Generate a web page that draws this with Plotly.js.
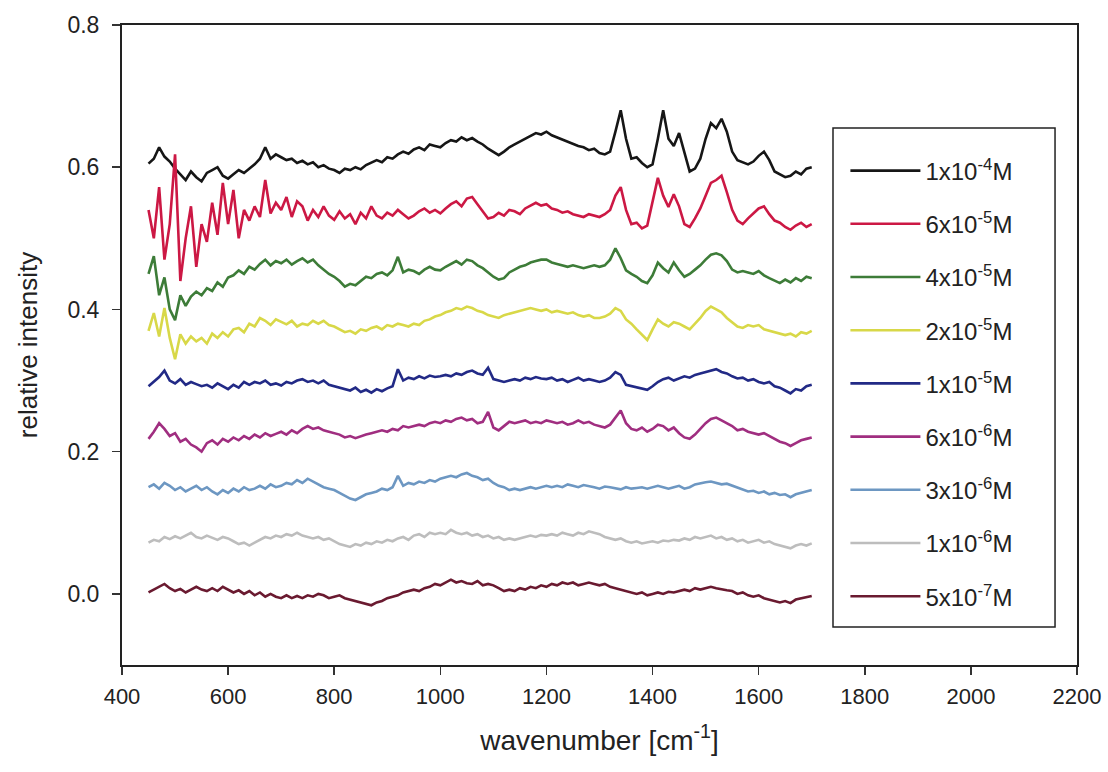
<!DOCTYPE html>
<html>
<head>
<meta charset="utf-8">
<script src="https://cdn.plot.ly/plotly-3.0.1.min.js"></script>
<style>html,body{margin:0;padding:0;background:#fff;}#chart{width:1108px;height:772px;}</style>
</head>
<body>
<div id="chart"></div>
<script>
const wavenumber = [450,460,470,480,490,500,510,520,530,540,550,560,570,580,590,600,610,620,630,640,650,660,670,680,690,700,710,720,730,740,750,760,770,780,790,800,810,820,830,840,850,860,870,880,890,900,910,920,930,940,950,960,970,980,990,1000,1010,1020,1030,1040,1050,1060,1070,1080,1090,1100,1110,1120,1130,1140,1150,1160,1170,1180,1190,1200,1210,1220,1230,1240,1250,1260,1270,1280,1290,1300,1310,1320,1330,1340,1350,1360,1370,1380,1390,1400,1410,1420,1430,1440,1450,1460,1470,1480,1490,1500,1510,1520,1530,1540,1550,1560,1570,1580,1590,1600,1610,1620,1630,1640,1650,1660,1670,1680,1690,1700];

const seriesNames = ["1x10<sup>-4</sup>M","6x10<sup>-5</sup>M","4x10<sup>-5</sup>M","2x10<sup>-5</sup>M","1x10<sup>-5</sup>M","6x10<sup>-6</sup>M","3x10<sup>-6</sup>M","1x10<sup>-6</sup>M","5x10<sup>-7</sup>M"];

const c1e4 = [0.605,0.612,0.628,0.615,0.608,0.598,0.590,0.582,0.594,0.586,0.580,0.592,0.596,0.600,0.588,0.584,0.590,0.596,0.592,0.598,0.604,0.612,0.628,0.612,0.618,0.614,0.610,0.612,0.606,0.609,0.604,0.607,0.600,0.603,0.598,0.596,0.592,0.598,0.596,0.600,0.597,0.603,0.606,0.610,0.607,0.614,0.612,0.618,0.622,0.619,0.625,0.628,0.624,0.632,0.630,0.628,0.634,0.638,0.636,0.642,0.638,0.641,0.636,0.632,0.626,0.622,0.617,0.622,0.628,0.632,0.636,0.640,0.644,0.648,0.646,0.650,0.645,0.642,0.638,0.636,0.632,0.630,0.628,0.624,0.626,0.620,0.618,0.622,0.650,0.680,0.640,0.612,0.614,0.606,0.600,0.604,0.640,0.680,0.640,0.630,0.648,0.620,0.594,0.598,0.612,0.640,0.662,0.655,0.668,0.650,0.622,0.610,0.607,0.604,0.608,0.616,0.622,0.610,0.594,0.590,0.586,0.588,0.594,0.590,0.598,0.600];

const c6e5 = [0.540,0.500,0.572,0.470,0.520,0.618,0.440,0.500,0.545,0.460,0.520,0.495,0.550,0.505,0.578,0.520,0.568,0.500,0.540,0.525,0.545,0.530,0.582,0.535,0.550,0.540,0.558,0.530,0.552,0.545,0.525,0.540,0.530,0.545,0.532,0.526,0.538,0.528,0.534,0.520,0.536,0.528,0.545,0.532,0.528,0.536,0.532,0.540,0.534,0.528,0.532,0.538,0.542,0.536,0.540,0.535,0.542,0.548,0.552,0.545,0.556,0.558,0.548,0.538,0.528,0.530,0.536,0.532,0.540,0.538,0.534,0.542,0.546,0.550,0.546,0.548,0.542,0.540,0.536,0.538,0.534,0.532,0.530,0.534,0.532,0.530,0.534,0.540,0.560,0.572,0.540,0.520,0.522,0.514,0.518,0.550,0.585,0.560,0.544,0.562,0.545,0.520,0.516,0.528,0.542,0.560,0.578,0.582,0.588,0.565,0.540,0.525,0.520,0.528,0.535,0.542,0.545,0.534,0.525,0.522,0.516,0.512,0.518,0.522,0.516,0.520];

const c4e5 = [0.450,0.475,0.420,0.445,0.400,0.385,0.420,0.405,0.418,0.425,0.420,0.430,0.426,0.438,0.432,0.445,0.448,0.455,0.450,0.460,0.456,0.464,0.470,0.462,0.468,0.465,0.470,0.463,0.468,0.472,0.466,0.470,0.462,0.456,0.450,0.446,0.440,0.432,0.436,0.434,0.440,0.446,0.444,0.450,0.452,0.448,0.455,0.474,0.452,0.456,0.454,0.450,0.456,0.460,0.456,0.455,0.460,0.464,0.468,0.463,0.470,0.468,0.462,0.458,0.452,0.446,0.442,0.444,0.452,0.456,0.460,0.462,0.466,0.468,0.470,0.470,0.466,0.464,0.462,0.460,0.462,0.460,0.458,0.460,0.462,0.460,0.462,0.470,0.486,0.472,0.455,0.450,0.446,0.440,0.437,0.448,0.466,0.458,0.452,0.466,0.455,0.446,0.450,0.456,0.462,0.470,0.477,0.479,0.476,0.468,0.456,0.452,0.454,0.452,0.450,0.454,0.448,0.444,0.440,0.437,0.442,0.438,0.444,0.440,0.446,0.444];

const c2e5 = [0.370,0.395,0.362,0.402,0.360,0.330,0.365,0.352,0.362,0.355,0.360,0.352,0.366,0.360,0.368,0.362,0.372,0.374,0.368,0.380,0.376,0.388,0.384,0.378,0.386,0.382,0.379,0.384,0.376,0.380,0.378,0.384,0.380,0.384,0.378,0.376,0.372,0.368,0.370,0.366,0.372,0.370,0.374,0.376,0.372,0.378,0.376,0.380,0.378,0.376,0.380,0.378,0.384,0.386,0.390,0.392,0.396,0.398,0.402,0.400,0.404,0.402,0.398,0.396,0.392,0.390,0.388,0.392,0.394,0.396,0.398,0.400,0.402,0.400,0.398,0.400,0.396,0.398,0.396,0.394,0.396,0.392,0.390,0.392,0.388,0.388,0.390,0.394,0.402,0.398,0.386,0.380,0.372,0.364,0.357,0.372,0.386,0.380,0.376,0.382,0.380,0.376,0.372,0.380,0.388,0.398,0.404,0.400,0.396,0.388,0.382,0.376,0.374,0.378,0.376,0.378,0.372,0.370,0.368,0.366,0.364,0.366,0.362,0.368,0.366,0.370];

const c1e5 = [0.292,0.298,0.305,0.314,0.300,0.296,0.302,0.294,0.298,0.295,0.292,0.294,0.290,0.296,0.292,0.288,0.294,0.290,0.298,0.294,0.298,0.296,0.300,0.294,0.296,0.293,0.298,0.296,0.300,0.302,0.298,0.300,0.296,0.300,0.294,0.292,0.290,0.288,0.286,0.290,0.284,0.287,0.283,0.288,0.285,0.289,0.292,0.316,0.300,0.304,0.302,0.306,0.303,0.307,0.305,0.306,0.308,0.306,0.310,0.308,0.312,0.314,0.310,0.308,0.318,0.302,0.300,0.298,0.300,0.302,0.300,0.304,0.302,0.305,0.303,0.302,0.304,0.300,0.302,0.298,0.301,0.304,0.300,0.302,0.300,0.298,0.300,0.304,0.312,0.308,0.294,0.292,0.290,0.288,0.287,0.292,0.298,0.302,0.304,0.300,0.303,0.306,0.304,0.308,0.310,0.312,0.314,0.316,0.312,0.310,0.306,0.303,0.304,0.300,0.302,0.298,0.296,0.298,0.292,0.290,0.286,0.282,0.288,0.286,0.292,0.294];

const c6e6 = [0.218,0.228,0.240,0.232,0.222,0.226,0.214,0.218,0.210,0.206,0.200,0.212,0.216,0.210,0.218,0.214,0.220,0.216,0.222,0.218,0.224,0.220,0.226,0.222,0.225,0.228,0.224,0.230,0.226,0.232,0.236,0.232,0.234,0.230,0.228,0.226,0.224,0.220,0.222,0.219,0.222,0.224,0.226,0.228,0.230,0.228,0.232,0.230,0.236,0.234,0.236,0.238,0.236,0.240,0.242,0.240,0.244,0.242,0.246,0.248,0.244,0.246,0.240,0.242,0.256,0.234,0.230,0.236,0.242,0.240,0.242,0.244,0.240,0.242,0.240,0.244,0.242,0.240,0.242,0.238,0.240,0.244,0.240,0.242,0.238,0.236,0.234,0.238,0.248,0.258,0.240,0.232,0.230,0.234,0.228,0.232,0.238,0.236,0.230,0.234,0.226,0.220,0.218,0.224,0.232,0.240,0.246,0.248,0.244,0.240,0.236,0.230,0.232,0.228,0.226,0.224,0.226,0.222,0.218,0.214,0.212,0.208,0.212,0.216,0.218,0.220];

const c3e6 = [0.150,0.154,0.148,0.156,0.152,0.146,0.150,0.144,0.148,0.152,0.146,0.150,0.144,0.140,0.146,0.142,0.148,0.144,0.150,0.146,0.148,0.152,0.148,0.154,0.150,0.152,0.156,0.154,0.160,0.156,0.162,0.158,0.154,0.150,0.148,0.146,0.142,0.138,0.134,0.132,0.136,0.140,0.142,0.144,0.148,0.146,0.150,0.166,0.152,0.156,0.154,0.158,0.156,0.160,0.158,0.162,0.164,0.166,0.164,0.168,0.170,0.166,0.164,0.160,0.162,0.156,0.152,0.150,0.146,0.148,0.146,0.148,0.150,0.148,0.150,0.152,0.150,0.152,0.150,0.154,0.152,0.150,0.153,0.152,0.150,0.148,0.151,0.150,0.149,0.147,0.150,0.148,0.149,0.150,0.148,0.150,0.152,0.150,0.148,0.150,0.152,0.148,0.150,0.154,0.156,0.157,0.158,0.156,0.154,0.155,0.152,0.150,0.146,0.144,0.145,0.142,0.144,0.140,0.142,0.139,0.140,0.136,0.140,0.142,0.144,0.146];

const c1e6 = [0.072,0.076,0.074,0.080,0.077,0.081,0.078,0.082,0.086,0.080,0.078,0.082,0.079,0.076,0.080,0.078,0.074,0.070,0.072,0.068,0.072,0.076,0.080,0.078,0.082,0.080,0.084,0.082,0.086,0.082,0.080,0.078,0.080,0.076,0.078,0.074,0.070,0.068,0.066,0.070,0.068,0.072,0.070,0.074,0.072,0.076,0.074,0.078,0.080,0.076,0.082,0.084,0.080,0.086,0.084,0.086,0.084,0.090,0.086,0.084,0.086,0.082,0.084,0.080,0.082,0.078,0.080,0.076,0.078,0.076,0.078,0.080,0.082,0.080,0.083,0.082,0.084,0.082,0.086,0.084,0.082,0.086,0.084,0.088,0.086,0.084,0.080,0.078,0.076,0.078,0.074,0.072,0.074,0.071,0.072,0.074,0.072,0.075,0.074,0.076,0.075,0.078,0.076,0.080,0.078,0.080,0.082,0.078,0.080,0.076,0.078,0.074,0.076,0.072,0.074,0.076,0.072,0.074,0.070,0.068,0.066,0.064,0.068,0.070,0.068,0.071];

const c5e7 = [0.002,0.006,0.010,0.014,0.008,0.004,0.007,0.002,0.006,0.010,0.006,0.004,0.008,0.004,0.010,0.006,0.002,0.005,0.000,0.004,-0.002,0.002,-0.004,0.000,-0.004,-0.006,-0.002,-0.006,-0.003,-0.006,-0.002,-0.004,0.000,-0.002,-0.006,-0.004,-0.002,-0.006,-0.008,-0.010,-0.012,-0.015,-0.016,-0.012,-0.010,-0.006,-0.004,-0.002,0.002,0.004,0.006,0.004,0.008,0.010,0.014,0.012,0.016,0.020,0.016,0.018,0.015,0.014,0.018,0.012,0.014,0.012,0.008,0.004,0.006,0.004,0.008,0.006,0.010,0.008,0.012,0.010,0.014,0.012,0.016,0.014,0.016,0.012,0.014,0.016,0.014,0.012,0.014,0.010,0.008,0.006,0.004,0.002,0.000,0.002,-0.002,0.000,0.002,0.000,0.003,0.002,0.004,0.006,0.004,0.008,0.006,0.008,0.010,0.008,0.006,0.005,0.004,0.000,0.002,-0.002,-0.004,-0.002,-0.006,-0.008,-0.010,-0.012,-0.010,-0.013,-0.008,-0.006,-0.004,-0.003];

const xTickVals = [400,600,800,1000,1200,1400,1600,1800,2000,2200];
const yTickVals = [0.0,0.2,0.4,0.6,0.8];

const seriesValues = [c1e4,c6e5,c4e5,c2e5,c1e5,c6e6,c3e6,c1e6,c5e7];
const seriesColors = ["#161616","#cc1844","#3d7c38","#d8d848","#222a86","#a02e80","#6d97c2","#bdbdbd","#6a1a30"];

const traces = seriesValues.map((v, i) => ({
  x: wavenumber, y: v, type: "scatter", mode: "lines",
  name: seriesNames[i], legendgroup: "g" + i,
  line: {color: seriesColors[i], width: 2.6}
}));

const FONT = "Liberation Sans, Arial, sans-serif";
const layout = {
  width: 1108, height: 772,
  margin: {l: 122, r: 31, t: 25, b: 107},
  paper_bgcolor: "#ffffff", plot_bgcolor: "#ffffff",
  font: {family: FONT, color: "#222", size: 22},
  showlegend: true,
  xaxis: {
    range: [400, 2200], tickvals: xTickVals, ticks: "outside", ticklen: 8, tickwidth: 1.5, tickcolor: "#333",
    showline: true, mirror: true, linecolor: "#222", linewidth: 2, showgrid: false, zeroline: false,
    tickfont: {family: FONT, size: 22, color: "#222"}, ticklabelstandoff: 3,
    title: {text: "wavenumber [cm<sup>-1</sup>]", font: {family: FONT, size: 28, color: "#222"}, standoff: 22}
  },
  yaxis: {
    range: [-0.1, 0.8], tickvals: yTickVals, tickformat: ".1f", ticks: "outside", ticklen: 8, tickwidth: 1.5, tickcolor: "#333",
    showline: true, mirror: true, linecolor: "#222", linewidth: 2, showgrid: false, zeroline: false,
    tickfont: {family: FONT, size: 23, color: "#222"}, ticklabelstandoff: 8,
    title: {text: "relative intensity", font: {family: FONT, size: 26, color: "#222"}, standoff: 22}
  },
  shapes: [{
    type: "rect", xref: "paper", yref: "paper", layer: "below",
    x0: 0.7445, x1: 0.977, y0: 0.0594, y1: 0.839,
    line: {color: "#222", width: 1.5}, fillcolor: "#ffffff"
  }],
  legend: {
    x: 0.7575, y: 0.807, xanchor: "left", yanchor: "top",
    bgcolor: "rgba(0,0,0,0)", borderwidth: 0,
    font: {family: FONT, size: 24, color: "#222"},
    tracegroupgap: 19, itemwidth: 70
  }
};

Plotly.newPlot("chart", traces, layout, {displayModeBar: false, staticPlot: true});
</script>
</body>
</html>
